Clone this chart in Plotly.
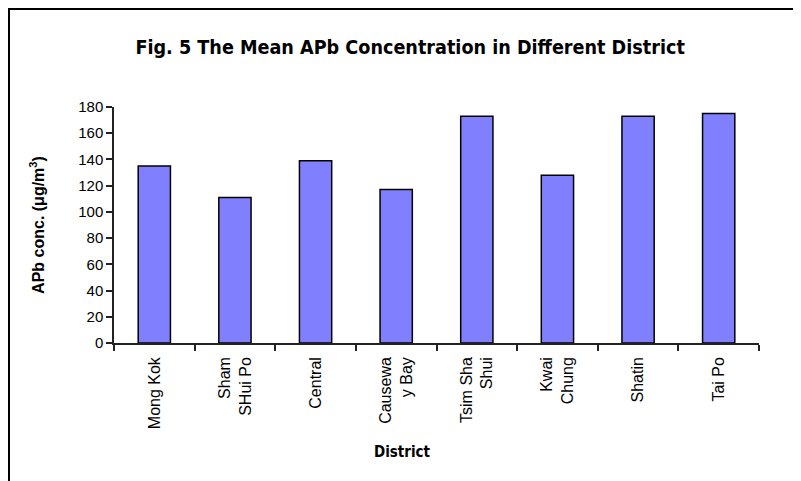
import plotly.graph_objects as go

# Mean APb concentration by district
districts = ["Mong Kok", "Sham<br>SHui Po", "Central", "Causewa<br>y Bay",
             "Tsim Sha<br>Shui", "Kwai<br>Chung", "Shatin", "Tai Po"]
apb_conc = [135, 111, 139, 117, 173, 128, 173, 175]
y_ticks = [0, 20, 40, 60, 80, 100, 120, 140, 160, 180]

COND = "DejaVu Sans Condensed, Liberation Sans, sans-serif"

fig = go.Figure(go.Bar(
    x=districts,
    y=apb_conc,
    width=0.4,
    marker=dict(color="#8080FF", line=dict(color="#000000", width=1.5)),
))

# page body adds an 8px offset, margins below account for it
fig.update_layout(
    width=801, height=481,
    margin=dict(l=106, r=50, t=99, b=146),
    paper_bgcolor="white", plot_bgcolor="white",
    showlegend=False,
    font=dict(family="Liberation Sans, Arial, sans-serif", size=13, color="#000000"),
    title=dict(
        text="<b>Fig. 5 The Mean APb Concentration in Different District</b>",
        x=0.502, xref="container", xanchor="center",
        y=0.919, yref="container", yanchor="middle",
        font=dict(family=COND, size=19.6),
    ),
    xaxis=dict(
        type="category",
        tickangle=-90,
        tickson="boundaries",
        ticks="outside", ticklen=6, tickcolor="#222", tickwidth=1.5,
        showline=True, linecolor="#222", linewidth=1.5,
        showgrid=False,
        ticklabelstandoff=6,
        tickfont=dict(size=16),
    ),
    yaxis=dict(
        range=[0, 180],
        tickvals=y_ticks,
        ticks="outside", ticklen=6, tickcolor="#222", tickwidth=1.5,
        showline=True, linecolor="#222", linewidth=1.5,
        showgrid=False, zeroline=False,
        tickfont=dict(size=15),
        title=dict(text="<b>APb conc. (μg/m<sup>3</sup>)</b>", standoff=30,
                   font=dict(size=16)),
    ),
    annotations=[dict(
        text="<b>District</b>", xref="paper", yref="paper",
        x=0.448, y=-0.462, xanchor="center", yanchor="middle",
        showarrow=False, font=dict(family=COND, size=15),
    )],
    shapes=[dict(
        type="rect", xref="paper", yref="paper",
        x0=-0.1628, x1=1.2, y0=-0.8, y1=1.415,
        line=dict(color="#000000", width=2), layer="below",
    )],
)

fig.write_html("out.html")
